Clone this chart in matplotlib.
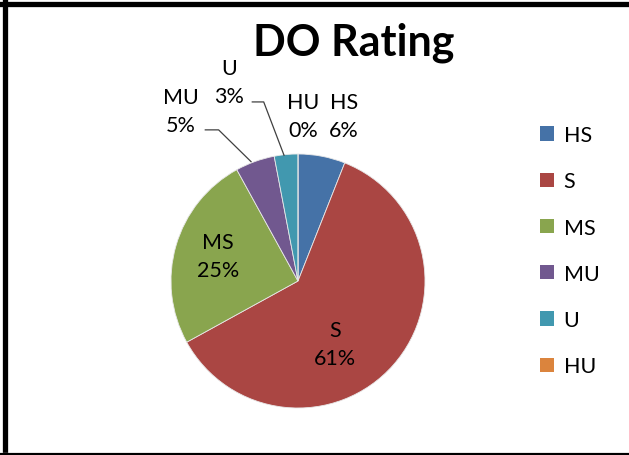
import matplotlib.pyplot as plt
from matplotlib.lines import Line2D
from matplotlib.patches import Patch

plt.rcParams["font.family"] = ["Lato", "DejaVu Sans"]

# ============================================================
# Data
# ============================================================

categories = ["HS", "S", "MS", "MU", "U", "HU"]
shares = [6, 61, 25, 5, 3, 0]
colors = ["#4572A7", "#AA4643", "#89A54E", "#71588F", "#4198AF", "#DB843D"]

W, H = 629, 456

fig = plt.figure(figsize=(W / 100, H / 100), dpi=100)

# pie centre (298, 282) px, radius 127 px
cx, cy, r = 298, 282, 127
ax = fig.add_axes([(cx - r) / W, (H - cy - r) / H, 2 * r / W, 2 * r / H])

wedges, _ = ax.pie(
    shares,
    colors=colors,
    startangle=90,
    counterclock=False,
    radius=1,
    wedgeprops={"linewidth": 0.6, "edgecolor": "#E8E8E8"}
)
ax.set_xlim(-1, 1)
ax.set_ylim(-1, 1)
ax.set_aspect("equal")
ax.axis("off")

# ============================================================
# Data labels
# ============================================================

label_pos = {
    "HS": (0.36, 1.30),
    "S": (0.29, -0.50),
    "MS": (-0.63, 0.20),
    "MU": (-0.92, 1.34),
    "U": (-0.54, 1.57),
    "HU": (0.04, 1.30),
}

for cat, val in zip(categories, shares):
    x, y = label_pos[cat]
    ax.text(
        x, y, f"{cat}\n{val}%",
        ha="center", va="center",
        fontsize=15.5, linespacing=1.5,
        clip_on=False
    )

# leader lines
ax.plot([-0.36, -0.27, -0.11], [1.41, 1.41, 0.99],
        color="#404040", lw=0.9, clip_on=False)
ax.plot([-0.73, -0.625, -0.37], [1.19, 1.19, 0.94],
        color="#404040", lw=0.9, clip_on=False)

# ============================================================
# Title and legend
# ============================================================

fig.text(354 / W, 1 - 43 / H, "DO Rating",
         ha="center", va="center", fontsize=31, fontweight="bold")

handles = [Patch(facecolor=c, edgecolor="none") for c in colors]
fig.legend(
    handles, categories,
    loc="upper left",
    bbox_to_anchor=(540 / W, 1 - 126 / H),
    frameon=False,
    fontsize=15.5,
    handlelength=0.65,
    handleheight=0.65,
    handletextpad=0.45,
    labelspacing=1.22,
    borderpad=0,
    borderaxespad=0
)

# ============================================================
# Frame
# ============================================================

fig.add_artist(Line2D([0, 1], [1 - 4.5 / H, 1 - 4.5 / H], color="black", lw=3.8))
fig.add_artist(Line2D([4.5 / W, 4.5 / W], [0, 1 - 2 / H], color="black", lw=3.8))
fig.add_artist(Line2D([0, 1], [2.5 / H, 2.5 / H], color="#BFBFBF", lw=1))
fig.add_artist(Line2D([0, 1], [1 / H, 1 / H], color="black", lw=1.5))

fig.savefig("out.png", dpi=100)
